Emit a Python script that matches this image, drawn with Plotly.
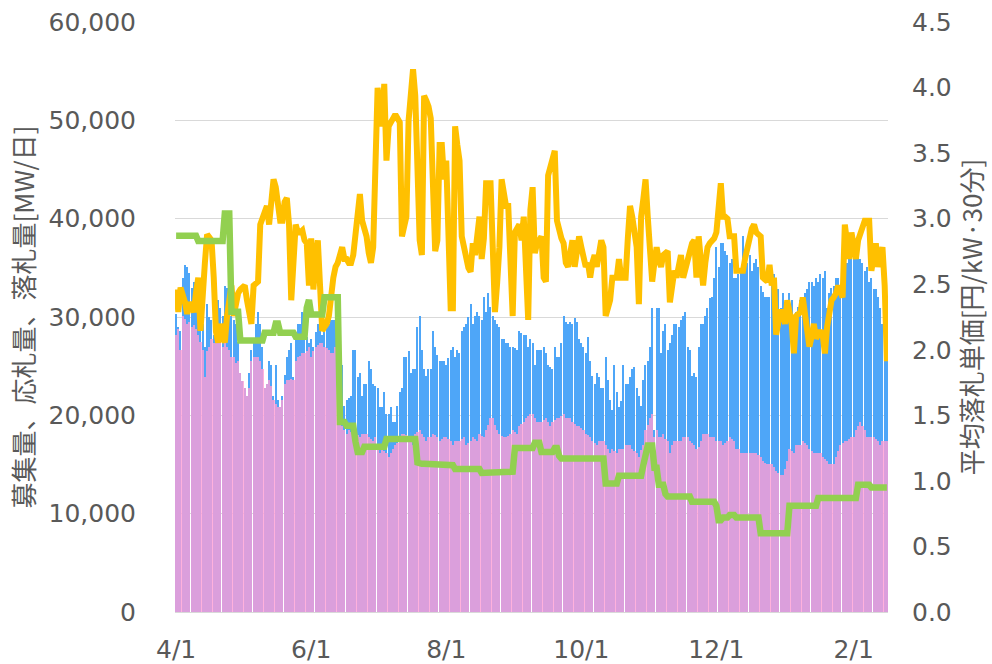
import pandas as pd
import plotly.graph_objects as go

# ---- data ----
start_date = "2021-04-01"

# 募集量 [千MW/日]  (orange line, left axis)
recruit_k = [
    32.8, 30.5, 33.0, 32.4, 31.5, 30.3, 31.5, 31.0, 30.5, 32.5,
    34.0, 28.6, 33.0, 35.5, 38.4, 38.0, 37.8, 34.0, 28.5, 27.4,
    29.3, 28.0, 27.4, 30.1, 32.0, 33.2, 30.1, 31.5, 32.4, 32.8,
    33.0, 33.2, 31.7, 30.5, 29.3, 33.2, 33.4, 33.6, 39.4, 40.0,
    40.5, 41.3, 39.4, 42.0, 44.0, 43.2, 41.0, 39.8, 39.8, 41.7,
    42.1, 39.4, 31.7, 36.0, 39.4, 38.6, 38.6, 38.8, 37.8, 37.5,
    33.2, 38.0, 32.8, 36.0, 37.8, 33.2, 28.6, 29.0, 29.3, 30.1,
    32.5, 34.0, 35.1, 35.5, 36.3, 37.1, 35.9, 35.9, 35.5, 35.5,
    36.3, 38.2, 40.0, 42.5, 39.8, 39.0, 38.2, 36.5, 35.5, 37.1,
    43.6, 53.3, 51.0, 49.4, 53.7, 45.9, 49.4, 50.0, 50.2, 50.6,
    50.2, 49.8, 38.2, 39.5, 40.2, 50.0, 52.5, 55.2, 52.5, 45.0,
    37.8, 36.3, 52.5, 52.0, 51.4, 50.2, 43.6, 36.7, 37.8, 47.5,
    47.5, 44.0, 45.9, 37.1, 30.9, 30.9, 49.4, 47.5, 45.9, 38.2,
    37.0, 36.3, 35.0, 34.6, 37.5, 36.3, 38.0, 40.2, 35.9, 38.0,
    43.6, 43.6, 43.6, 37.1, 30.5, 33.5, 37.1, 44.0, 42.0, 41.3,
    41.3, 36.0, 30.1, 38.6, 39.0, 39.4, 37.8, 40.2, 35.0, 29.7,
    40.9, 43.2, 36.5, 37.5, 37.8, 38.2, 34.0, 33.6, 44.4, 45.2,
    45.8, 46.9, 39.8, 38.6, 38.0, 37.5, 35.5, 35.1, 36.5, 37.8,
    35.1, 36.5, 38.2, 37.1, 36.0, 35.1, 35.5, 34.0, 35.5, 36.3,
    35.1, 36.5, 37.8, 37.1, 30.1, 30.9, 31.7, 34.0, 34.0, 34.0,
    35.9, 34.0, 34.0, 34.0, 38.0, 41.3, 40.2, 38.5, 37.1, 31.3,
    40.2, 42.0, 44.0, 40.2, 37.5, 33.6, 35.5, 37.1, 35.8, 35.1,
    36.3, 36.5, 36.7, 31.5, 33.5, 34.7, 34.0, 35.5, 36.3, 34.0,
    35.0, 35.5, 37.1, 37.5, 37.8, 34.0, 38.2, 35.5, 33.2, 35.5,
    37.1, 37.5, 37.8, 38.0, 38.6, 41.0, 43.6, 40.2, 40.2, 40.0,
    38.2, 38.2, 38.2, 34.7, 34.7, 34.7, 34.7, 36.0, 37.1, 38.6,
    39.0, 39.4, 38.6, 38.4, 38.2, 34.0, 33.8, 33.6, 35.3, 33.2,
    34.0, 28.2, 29.5, 30.5, 30.5, 29.3, 31.7, 30.5, 29.3, 26.3,
    30.1, 30.3, 30.5, 32.0, 30.1, 28.6, 27.0, 28.0, 29.3, 27.8,
    28.2, 28.6, 28.2, 26.3, 29.0, 30.9, 31.7, 32.0, 32.4, 33.2,
    32.5, 32.0, 39.4, 37.5, 35.9, 38.6, 37.0, 35.9, 37.8, 38.5,
    39.4, 39.8, 39.8, 39.8, 34.7, 36.0, 37.5, 35.1, 36.0, 37.1,
    33.2, 25.5,
]

# 応札量 [千MW/日]  (blue bars, left axis)
bid_k = [
    30.3, 29.0, 28.6, 34.0, 35.3, 35.1, 34.5, 33.0, 33.6, 32.4,
    31.7, 30.5, 29.3, 27.0, 31.3, 30.0, 29.7, 28.2, 30.5, 31.7,
    30.9, 30.1, 33.2, 33.0, 32.8, 30.1, 29.7, 29.3, 27.5, 24.3,
    23.5, 22.8, 22.0, 24.3, 26.6, 27.5, 29.3, 30.5, 29.3, 27.0,
    22.8, 23.2, 25.5, 25.1, 22.0, 25.1, 21.6, 20.8, 22.0, 24.1,
    25.9, 26.6, 27.4, 23.9, 28.2, 29.3, 29.3, 30.5, 29.3, 28.0,
    27.4, 27.8, 27.0, 28.5, 29.3, 29.5, 28.2, 28.6, 29.0, 29.3,
    29.7, 29.7, 29.7, 27.8, 26.0, 25.1, 21.0, 21.6, 21.8, 22.0,
    26.6, 26.6, 23.9, 24.3, 22.0, 23.2, 23.2, 25.5, 24.7, 23.2,
    23.0, 22.8, 20.8, 20.8, 22.4, 20.1, 20.1, 20.8, 19.3, 19.3,
    21.0, 22.4, 22.8, 25.9, 25.9, 26.5, 24.3, 24.7, 24.7, 29.0,
    30.1, 26.6, 24.7, 24.0, 24.7, 24.7, 28.6, 27.0, 26.1, 25.5,
    25.5, 25.5, 25.1, 25.8, 26.6, 27.0, 25.9, 26.6, 26.3, 28.6,
    29.0, 29.3, 30.0, 31.3, 29.3, 30.1, 30.5, 30.1, 29.7, 32.0,
    30.5, 32.4, 31.0, 30.1, 29.7, 29.3, 29.0, 27.8, 27.8, 27.4,
    27.4, 27.0, 27.0, 26.8, 26.6, 28.6, 28.4, 28.2, 28.2, 27.0,
    27.8, 27.4, 25.1, 26.6, 26.6, 26.6, 27.0, 26.3, 25.1, 24.9,
    24.7, 27.0, 25.9, 25.9, 27.4, 30.1, 29.5, 29.3, 29.5, 29.3,
    29.9, 29.5, 27.8, 27.4, 27.0, 26.3, 28.0, 25.5, 24.0, 23.2,
    24.3, 23.9, 22.8, 22.8, 25.9, 23.6, 21.6, 20.5, 25.1, 22.4,
    20.8, 21.5, 25.1, 23.2, 23.2, 23.9, 24.7, 24.9, 22.8, 22.0,
    21.0, 23.6, 25.1, 25.5, 27.0, 30.9, 18.5, 30.9, 30.9, 26.3,
    28.6, 29.3, 26.6, 27.4, 28.2, 29.3, 29.3, 29.0, 29.7, 30.1,
    30.5, 27.0, 26.6, 24.0, 24.3, 23.9, 27.0, 29.3, 29.3, 30.1,
    30.9, 31.9, 32.0, 34.0, 37.1, 35.1, 37.5, 37.5, 36.7, 36.3,
    35.5, 35.9, 34.0, 34.0, 34.4, 34.7, 38.2, 36.3, 35.5, 36.3,
    34.7, 35.5, 35.9, 35.1, 33.2, 32.5, 32.0, 32.0, 32.0, 33.2,
    34.4, 33.5, 32.8, 30.9, 32.4, 31.5, 30.9, 32.4, 31.7, 27.8,
    30.5, 31.0, 31.7, 32.0, 32.4, 32.8, 33.6, 33.6, 33.2, 34.0,
    33.6, 34.4, 34.0, 34.7, 30.9, 32.4, 33.0, 33.2, 34.0, 34.0,
    33.2, 34.5, 36.3, 35.5, 37.1, 36.7, 36.7, 36.3, 36.3, 35.9,
    35.5, 34.7, 35.1, 33.6, 34.0, 32.8, 32.8, 32.0, 30.9, 29.3,
    27.0, 26.3,
]

# 落札量 [千MW/日]  (pink bars, left axis)
award_k = [
    28.2, 28.8, 26.6, 30.1, 29.8, 29.3, 29.5, 29.0, 29.2, 28.8,
    28.2, 27.5, 26.6, 23.9, 26.5, 27.0, 27.8, 27.4, 27.4, 28.6,
    28.0, 27.0, 27.4, 27.0, 26.6, 25.9, 25.9, 25.3, 25.5, 24.3,
    23.5, 22.8, 22.0, 22.8, 25.5, 25.9, 25.9, 25.9, 25.5, 24.7,
    22.8, 23.2, 23.6, 23.0, 21.6, 21.2, 20.8, 20.8, 21.6, 23.2,
    23.6, 23.6, 23.7, 23.6, 25.5, 25.9, 26.0, 26.3, 26.3, 26.5,
    27.0, 25.9, 26.5, 27.0, 27.2, 27.4, 27.4, 27.0, 26.8, 26.6,
    26.3, 26.3, 27.0, 25.5, 19.3, 18.9, 18.5, 18.1, 18.5, 18.3,
    18.1, 18.1, 18.0, 17.8, 18.1, 18.1, 18.1, 17.8, 17.6, 17.4,
    17.8, 17.0, 16.2, 16.6, 16.4, 16.2, 15.8, 16.2, 16.6, 17.0,
    17.2, 17.4, 18.1, 18.1, 18.0, 17.8, 17.4, 17.0, 18.1, 18.3,
    18.5, 18.1, 17.8, 17.4, 17.8, 17.8, 18.1, 18.0, 17.8, 17.4,
    17.6, 17.8, 17.8, 17.6, 17.4, 17.0, 17.4, 17.4, 17.4, 17.6,
    17.8, 17.0, 17.2, 17.4, 17.8, 17.6, 17.4, 18.1, 17.9, 17.8,
    18.5, 19.0, 19.7, 19.7, 19.0, 18.5, 18.1, 17.9, 17.8, 17.8,
    17.9, 18.1, 18.5, 18.3, 18.1, 18.9, 19.1, 19.3, 19.7, 19.9,
    20.1, 20.1, 19.7, 19.3, 19.3, 19.3, 19.5, 19.7, 19.3, 18.9,
    19.3, 19.5, 19.7, 19.7, 19.9, 20.1, 19.7, 19.7, 19.7, 19.3,
    19.1, 18.9, 18.9, 18.7, 18.5, 18.1, 18.0, 17.8, 17.4, 17.2,
    17.0, 17.4, 17.4, 17.4, 17.0, 16.6, 16.2, 16.6, 16.4, 16.2,
    16.6, 16.6, 16.6, 17.0, 17.0, 17.0, 16.6, 16.4, 16.2, 15.8,
    16.5, 17.0, 18.5, 19.0, 19.7, 20.1, 17.8, 18.5, 17.8, 17.8,
    18.1, 17.6, 17.4, 16.2, 17.0, 17.4, 17.4, 17.4, 17.4, 17.8,
    17.8, 17.8, 17.4, 17.2, 17.0, 16.6, 16.8, 17.4, 18.1, 18.1,
    18.1, 17.8, 17.8, 17.8, 17.4, 17.4, 17.4, 17.0, 17.2, 17.4,
    17.8, 17.6, 17.4, 16.6, 16.6, 16.2, 16.2, 16.2, 16.2, 16.2,
    16.2, 16.2, 16.2, 16.0, 15.8, 15.4, 15.2, 15.1, 15.1, 15.1,
    14.7, 14.3, 14.1, 13.9, 13.9, 14.5, 15.4, 16.6, 16.4, 16.2,
    17.0, 17.0, 17.0, 17.4, 17.2, 17.0, 16.6, 16.4, 16.2, 16.2,
    16.2, 16.2, 15.8, 15.6, 15.4, 15.1, 15.1, 15.1, 15.8, 16.4,
    17.0, 17.2, 17.4, 17.4, 17.6, 17.8, 17.8, 18.5, 18.9, 19.3,
    18.9, 18.5, 17.8, 17.8, 17.8, 17.8, 17.6, 17.4, 17.0, 17.4,
    17.4, 17.4,
]

# 平均落札単価 [円/kW・30分]  (green line, right axis)
price = [
    2.87, 2.87, 2.87, 2.87, 2.87, 2.87, 2.87, 2.87, 2.87, 2.87,
    2.83, 2.83, 2.83, 2.83, 2.83, 2.83, 2.83, 2.83, 2.83, 2.83,
    2.83, 2.83, 3.04, 3.04, 3.04, 2.29, 2.29, 2.29, 2.29, 2.07,
    2.07, 2.07, 2.07, 2.07, 2.07, 2.07, 2.07, 2.07, 2.07, 2.07,
    2.13, 2.13, 2.13, 2.13, 2.13, 2.20, 2.20, 2.13, 2.13, 2.13,
    2.13, 2.13, 2.13, 2.13, 2.10, 2.10, 2.10, 2.10, 2.10, 2.32,
    2.38, 2.27, 2.27, 2.27, 2.27, 2.27, 2.27, 2.40, 2.40, 2.40,
    2.40, 2.40, 2.40, 2.40, 1.45, 1.45, 1.45, 1.42, 1.42, 1.42,
    1.42, 1.30, 1.22, 1.22, 1.22, 1.26, 1.26, 1.26, 1.26, 1.26,
    1.26, 1.26, 1.26, 1.26, 1.26, 1.32, 1.32, 1.32, 1.32, 1.32,
    1.32, 1.32, 1.32, 1.32, 1.32, 1.32, 1.32, 1.32, 1.32, 1.14,
    1.13, 1.13, 1.13, 1.13, 1.13, 1.13, 1.13, 1.13, 1.13, 1.13,
    1.13, 1.13, 1.12, 1.12, 1.12, 1.12, 1.09, 1.09, 1.09, 1.09,
    1.09, 1.09, 1.09, 1.09, 1.09, 1.09, 1.09, 1.09, 1.06, 1.06,
    1.06, 1.06, 1.06, 1.06, 1.06, 1.06, 1.06, 1.06, 1.06, 1.06,
    1.06, 1.06, 1.07, 1.25, 1.25, 1.25, 1.25, 1.25, 1.25, 1.25,
    1.25, 1.25, 1.29, 1.29, 1.29, 1.22, 1.22, 1.22, 1.22, 1.22,
    1.22, 1.25, 1.25, 1.19, 1.17, 1.17, 1.17, 1.17, 1.17, 1.17,
    1.17, 1.17, 1.17, 1.17, 1.17, 1.17, 1.17, 1.17, 1.17, 1.17,
    1.17, 1.17, 1.17, 1.17, 0.98, 0.98, 0.98, 0.98, 0.98, 0.98,
    1.04, 1.04, 1.04, 1.04, 1.04, 1.04, 1.04, 1.04, 1.04, 1.04,
    1.04, 1.12, 1.19, 1.27, 1.27, 1.27, 1.10, 1.10, 0.97, 0.97,
    0.97, 0.90, 0.88, 0.88, 0.88, 0.88, 0.88, 0.88, 0.88, 0.88,
    0.88, 0.88, 0.88, 0.84, 0.84, 0.84, 0.84, 0.84, 0.84, 0.84,
    0.84, 0.84, 0.84, 0.84, 0.81, 0.70, 0.70, 0.72, 0.72, 0.72,
    0.74, 0.74, 0.74, 0.72, 0.72, 0.72, 0.72, 0.72, 0.72, 0.72,
    0.72, 0.72, 0.72, 0.72, 0.60, 0.60, 0.60, 0.60, 0.60, 0.60,
    0.60, 0.60, 0.60, 0.60, 0.60, 0.60, 0.60, 0.81, 0.81, 0.81,
    0.81, 0.81, 0.81, 0.81, 0.81, 0.81, 0.81, 0.81, 0.81, 0.81,
    0.87, 0.87, 0.87, 0.87, 0.87, 0.87, 0.87, 0.87, 0.87, 0.87,
    0.87, 0.87, 0.87, 0.87, 0.87, 0.87, 0.87, 0.87, 0.97, 0.97,
    0.97, 0.97, 0.97, 0.97, 0.95, 0.95, 0.95, 0.95, 0.95, 0.95,
    0.95, 0.95,
]

tick_dates = ["2021-04-01", "2021-06-01", "2021-08-01", "2021-10-01", "2021-12-01", "2022-02-01"]
tick_text = ["4/1", "6/1", "8/1", "10/1", "12/1", "2/1"]


def days(series):
    return pd.date_range(start_date, periods=len(series), freq="D")


DAY_MS = 86400000
grid_col = "#D9D9D9"
text_col = "#595959"
tick_font = dict(family="DejaVu Sans, Verdana, sans-serif", size=25, color=text_col)
title_font = dict(family="Noto Sans CJK JP, sans-serif", size=26, color=text_col)

fig = go.Figure()

fig.add_trace(go.Bar(
    x=days(bid_k), y=[v * 1000 for v in bid_k], name="応札量",
    marker=dict(color="#4EA6F8", line=dict(width=0)),
    width=DAY_MS * 0.55, yaxis="y",
))
fig.add_trace(go.Bar(
    x=days(award_k), y=[v * 1000 for v in award_k], name="落札量",
    marker=dict(color="rgba(255,158,212,0.8)", line=dict(width=0)),
    width=DAY_MS * 0.95, yaxis="y",
))
fig.add_trace(go.Scatter(
    x=days(price), y=price, name="平均落札単価", mode="lines",
    line=dict(color="#92D050", width=6.5), yaxis="y2",
))
fig.add_trace(go.Scatter(
    x=days(recruit_k), y=[v * 1000 for v in recruit_k], name="募集量", mode="lines",
    line=dict(color="#FFC000", width=6), yaxis="y",
))

fig.update_layout(
    width=992, height=664,
    margin=dict(l=175, r=104, t=22, b=52),
    paper_bgcolor="white", plot_bgcolor="white",
    barmode="overlay", bargap=0,
    showlegend=False,
    xaxis=dict(
        type="date", automargin=False,
        range=["2021-03-31 12:00", "2022-02-16 12:00"],
        tickvals=tick_dates, ticktext=tick_text,
        tickfont=tick_font, showgrid=False, zeroline=False,
        showline=False, ticks="", ticklabelstandoff=20,
    ),
    yaxis=dict(
        automargin=False,
        range=[0, 60000], dtick=10000, tickformat=",",
        tickfont=tick_font, gridcolor=grid_col, gridwidth=1.3,
        zeroline=True, zerolinecolor=grid_col, zerolinewidth=1.3,
        showline=False, ticks="", ticklabelstandoff=38,
        title=dict(text="募集量、応札量、落札量[MW/日]", font=title_font, standoff=6),
    ),
    yaxis2=dict(
        automargin=False,
        overlaying="y", side="right",
        range=[0, 4.5], dtick=0.5, tickformat=".1f",
        tickfont=tick_font, showgrid=False, zeroline=False,
        showline=False, ticks="", ticklabelstandoff=23,
        title=dict(text="平均落札単価[円/kW·30分]", font=title_font, standoff=0),
    ),
)

fig.write_html("out.html", config={"displayModeBar": False},
               post_script="document.body.style.margin='0';")
